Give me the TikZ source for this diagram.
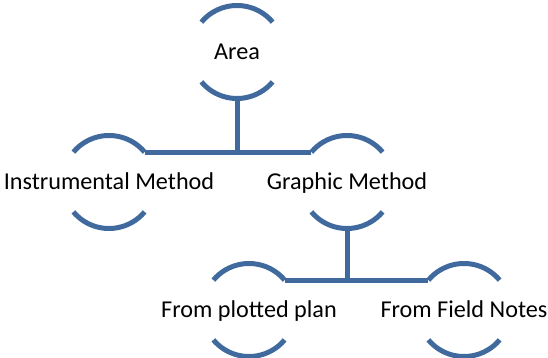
\documentclass[tikz,border=0pt]{standalone}
\usepackage{fontspec}
\setmainfont{Carlito}
\usepackage{tikz}

\definecolor{ringblue}{RGB}{64,106,158}

\begin{document}
\begin{tikzpicture}[x=1pt,y=1pt,
    ring/.style={circle,minimum size=93pt,inner sep=0pt,outer sep=0pt},
    word/.style={font=\fontsize{24.2}{29}\selectfont,text height=15.4pt,text depth=0pt,inner sep=0pt},
    wire/.style={draw=ringblue,line width=5pt}]
    \useasboundingbox (0,0) rectangle (548,358);
    % rings with their texts
    \node[ring,label={[word]center:Area}] (area) at (237,306) {};
    \node[ring,label={[word]center:Instrumental Method}] (instr) at (109,176) {};
    \node[ring,label={[word]center:Graphic Method}] (graphic) at (347,176) {};
    \node[ring,label={[word]center:From plotted plan}] (plotted) at (249,48) {};
    \node[ring,label={[word]center:From Field Notes}] (field) at (464,48) {};
    % upper and lower arcs of each ring
    \foreach \n in {area,instr,graphic,plotted,field} {
      \draw[wire] (\n.40) arc[start angle=40,end angle=140,radius=46.5pt];
      \draw[wire] (\n.220) arc[start angle=220,end angle=320,radius=46.5pt];
    }
    % Area -> methods
    \draw[wire] (instr.40) -- (graphic.140);
    \draw[wire] (area.south) -- (area.south |- instr.40);
    % Graphic Method -> plan, notes
    \draw[wire] (plotted.40) -- (field.140);
    \draw[wire] (graphic.south) -- (graphic.south |- plotted.40);
\end{tikzpicture}
\end{document}
